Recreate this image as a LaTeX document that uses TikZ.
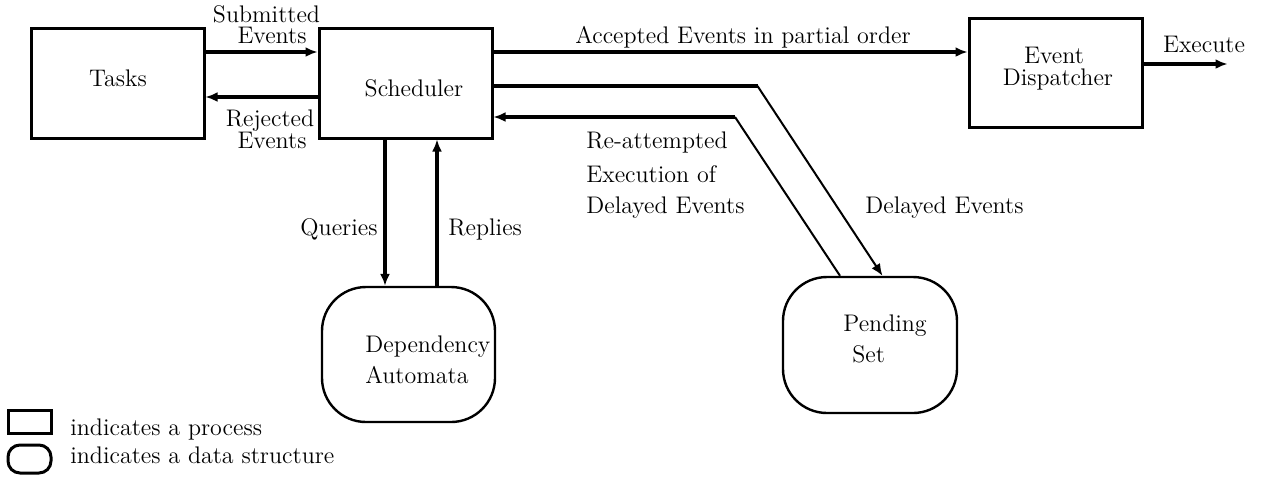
\documentclass[tikz,border=0pt]{standalone}
\usetikzlibrary{arrows.meta}

\begin{document}
\begin{tikzpicture}[x=0.5pt,y=-0.5pt,
  font=\fontsize{12}{14.4}\selectfont,
  proc/.style={draw,line width=1.5pt,inner sep=0pt},
  data/.style={draw,line width=1.2pt,rounded corners=22pt,inner sep=0pt},
  txt/.style={inner sep=0pt,anchor=base},
  heavy/.style={line width=2pt},
  slim/.style={line width=1pt},
  tip/.style={-{Latex[length=6pt,width=5pt]}}]

\useasboundingbox (0,0) rectangle (1264,479);

% processes
\foreach \x/\y/\w/\h/\nm in {
    117.5/83/86.5/55/tasks,
    405.5/83/86.5/55/sched,
    1055.75/72.5/86.75/54.5/disp}{
  \node[proc,minimum width=\w pt,minimum height=\h pt] (\nm) at (\x,\y) {};
}

% data structures
\node[data,minimum width=86.5pt,minimum height=67.5pt] (dep) at (408.5,354.5) {};
\node[data,minimum width=87pt,minimum height=68pt] (pend) at (870,345) {};

% box texts
\node[txt] (tasks-t) at (118,86) {Tasks};
\node[txt] (sched-t) at (414,96) {Scheduler};
\node[txt] (disp-t1) at (1054,63) {Event};
\node[txt] (disp-t2) at (1058,85) {Dispatcher};
\node[txt,anchor=base west] (dep-t1) at (365,352) {Dependency};
\node[txt,anchor=base west] (dep-t2) at (365,383) {Automata};
\node[txt,anchor=base west] (pend-t1) at (843,331) {Pending};
\node[txt,anchor=base west] (pend-t2) at (852,362) {Set};

% free ends and bends
\coordinate (exec) at (1227.5,64);
\coordinate (dbend) at (757.5,86);
\coordinate (rbend) at (735,117);

% connectors
\draw[heavy,tip] (tasks.east |- 0,52) -- (sched.west |- 0,52);
\draw[heavy,tip] (sched.west |- 0,97) -- (tasks.east |- 0,97);
\draw[heavy,tip] (sched.east |- 0,52) -- (disp.west |- 0,52);
\draw[heavy,tip] (disp.east |- 0,64) -- (exec);
\draw[heavy,tip] (sched.south -| 385,0) -- (dep.north -| 385,0);
\draw[heavy,tip] (dep.north -| 437,0) -- (sched.south -| 437,0);
\draw[heavy] (sched.east |- 0,86) -- (dbend);
\draw[slim,tip] (dbend) -- (pend.north -| 882.5,0);
\draw[slim] (pend.north -| 840,0) -- (rbend);
\draw[heavy,tip] (rbend) -- (sched.east |- 0,117);

% connector labels
\node[txt] (sub1) at (266.5,22) {Submitted};
\node[txt] (sub2) at (272,43) {Events};
\node[txt] (rej1) at (270,126) {Rejected};
\node[txt] (rej2) at (272,148) {Events};
\node[txt,anchor=base east] (qry) at (378,235) {Queries};
\node[txt,anchor=base west] (rpl) at (448,235) {Replies};
\node[txt] (acc) at (743,43) {Accepted Events in partial order};
\node[txt] (exe) at (1204,52) {Execute};
\node[txt,anchor=base west] (re1) at (586,148) {Re-attempted};
\node[txt,anchor=base west] (re2) at (586,182) {Execution of};
\node[txt,anchor=base west] (re3) at (586,213) {Delayed Events};
\node[txt,anchor=base west] (dly) at (865,213) {Delayed Events};

% legend
\node[proc,minimum width=21.5pt,minimum height=11.5pt] (legproc) at (29.5,421.5) {};
\node[data,line width=1.5pt,rounded corners=6pt,minimum width=21.5pt,minimum height=14pt] (legdata) at (29.5,459) {};
\node[txt,anchor=base west] (legproc-t) at (70,435) {indicates a process};
\node[txt,anchor=base west] (legdata-t) at (70,463) {indicates a data structure};
\end{tikzpicture}
\end{document}
